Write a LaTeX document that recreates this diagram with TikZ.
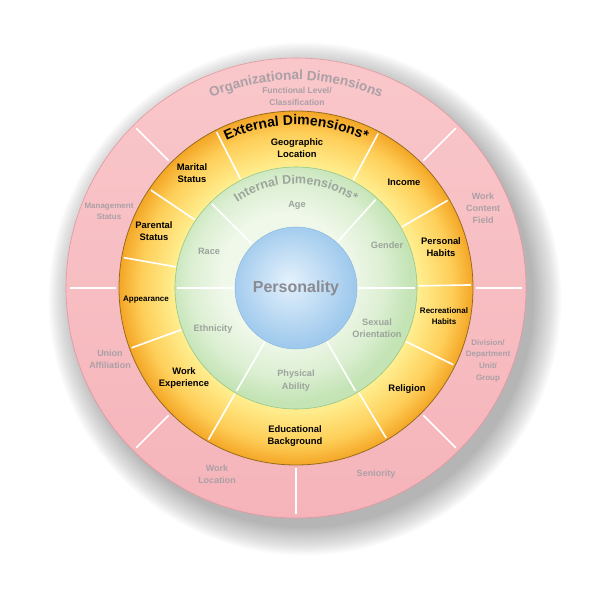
\documentclass[tikz,border=0pt]{standalone}
\usepackage{fontspec}
\setmainfont{Liberation Sans}
\usepackage{xcolor}
\definecolor{orgpink}{RGB}{249,199,202}
\definecolor{orgpinkdark}{RGB}{245,180,186}
\definecolor{orgedge}{RGB}{228,150,158}
\definecolor{orggray}{RGB}{170,160,166}
\definecolor{extlight}{RGB}{255,236,140}
\definecolor{extmid}{RGB}{254,206,88}
\definecolor{extdark}{RGB}{244,166,38}
\definecolor{extedge}{RGB}{150,108,30}
\definecolor{intlight}{RGB}{240,248,234}
\definecolor{intdark}{RGB}{196,228,182}
\definecolor{intedge}{RGB}{150,200,138}
\definecolor{intgray}{RGB}{156,164,156}
\definecolor{perlight}{RGB}{228,241,252}
\definecolor{perdark}{RGB}{160,202,237}
\definecolor{peredge}{RGB}{140,184,224}
\definecolor{pergray}{RGB}{138,138,146}
\usepackage{tikz}
\usetikzlibrary{decorations.text,calc}

\pgfdeclareradialshading{extshade}{\pgfpoint{0bp}{0bp}}{color(0bp)=(extlight); color(17.5bp)=(extlight); color(22bp)=(extmid); color(25bp)=(extdark); color(50bp)=(extdark)}
\pgfdeclareradialshading{intshade}{\pgfpoint{-3bp}{3bp}}{color(0bp)=(intlight); color(13bp)=(intlight); color(20bp)=(intlight!55!intdark); color(25bp)=(intdark); color(50bp)=(intdark)}
\pgfdeclareradialshading{pershade}{\pgfpoint{-3bp}{3bp}}{color(0bp)=(perlight); color(25bp)=(perdark); color(50bp)=(perdark)}

\begin{document}
\begin{tikzpicture}[
  x=1pt,y=1pt,
  ring/.style={circle,inner sep=0pt,outer sep=0pt},
  divider/.style={white,line width=1.6pt},
  orglabel/.style={font=\fontsize{9}{12}\selectfont\bfseries,text=orggray,align=center},
  extlabel/.style={font=\fontsize{9.4}{12}\selectfont\bfseries,text=black,align=center},
  intlabel/.style={font=\fontsize{9.2}{12.5}\selectfont\bfseries,text=intgray,align=center},
]
  \useasboundingbox (-296,-303) rectangle (295,288);

  % Shadow
  \foreach \k in {0,...,16}
    \fill[black,opacity=0.018] (9,-11) circle ({229+1.7*\k});

  % Organizational ring
  \node[ring,minimum size=460pt,top color=orgpink,bottom color=orgpinkdark,
        draw=orgedge,line width=0.6pt] (org) at (0,0) {};
  \foreach \a in {180,135,45,0,-45,-90,-135}
    \draw[divider] (\a:180) -- (\a:226);

  % External ring
  \node[ring,minimum size=354pt,shading=extshade,draw=extedge,line width=0.8pt]
    (ext) at (0,0) {};
  \foreach \a in {117,62,30,1,-26,-59,-120,200,170,146}
    \draw[divider] (\a:122) -- (\a:175);

  % Internal ring
  \node[ring,minimum size=242pt,shading=intshade,draw=intedge,line width=0.6pt]
    (int) at (0,0) {};
  \foreach \a in {135,48,0,180,-60,-120}
    \draw[divider] (\a:62) -- (\a:119);

  % Core
  \node[ring,minimum size=122pt,shading=pershade,draw=peredge,line width=0.5pt,
        font=\fontsize{16}{16}\selectfont\bfseries,text=pergray]
    (per) at (0,0) {Personality};

  % Ring titles
  \path[decorate,decoration={text along path,text align=center,
        text={|\fontsize{13.5}{14}\selectfont\bfseries\color{orggray}|Organizational Dimensions}}]
    (150:208) arc[start angle=150,end angle=30,radius=208];
  \path[decorate,decoration={text along path,text align=center,
        text={|\fontsize{14}{14}\selectfont\bfseries\color{black}|External Dimensions*}}]
    (150:163) arc[start angle=150,end angle=30,radius=163];
  \path[decorate,decoration={text along path,text align=center,
        text={|\fontsize{12.5}{13}\selectfont\bfseries\color{intgray}|Internal Dimensions*}}]
    (160:104) arc[start angle=160,end angle=20,radius=104];

  % Organizational dimensions
  \node[orglabel,font=\fontsize{8.5}{12}\selectfont\bfseries] (funclevel) at (1,192) {Functional Level/\\Classification};
  \node[orglabel,font=\fontsize{8}{11}\selectfont\bfseries] (mgmt) at (-187,76.5) {Management\\Status};
  \node[orglabel] (workcontent) at (187,79.5) {Work\\Content\\Field};
  \node[orglabel] (union) at (-186,-71.5) {Union\\Affiliation};
  \node[orglabel,font=\fontsize{8}{11.7}\selectfont\bfseries] (division) at (192,-72.5) {Division/\\Department\\Unit/\\Group};
  \node[orglabel] (workloc) at (-79,-186.5) {Work\\Location};
  \node[orglabel] (seniority) at (80,-186) {Seniority};

  % External dimensions
  \node[extlabel] (geo) at (1,140) {Geographic\\Location};
  \node[extlabel] (marital) at (-104,114.5) {Marital\\Status};
  \node[extlabel] (income) at (108,106) {Income};
  \node[extlabel] (parental) at (-142,56.5) {Parental\\Status};
  \node[extlabel] (personal) at (145,40.5) {Personal\\Habits};
  \node[extlabel,font=\fontsize{8}{11}\selectfont\bfseries] (appearance) at (-150,-12) {Appearance};
  \node[extlabel,font=\fontsize{8}{11}\selectfont\bfseries] (recreational) at (148,-28.5) {Recreational\\Habits};
  \node[extlabel] (workexp) at (-112,-90.5) {Work\\Experience};
  \node[extlabel] (religion) at (111,-101) {Religion};
  \node[extlabel] (education) at (-1,-148) {Educational\\Background};

  % Internal dimensions
  \node[intlabel] (age) at (1,83) {Age};
  \node[intlabel] (race) at (-87,37) {Race};
  \node[intlabel] (gender) at (91,43) {Gender};
  \node[intlabel] (ethnicity) at (-83,-41) {Ethnicity};
  \node[intlabel] (orientation) at (81,-40) {Sexual\\Orientation};
  \node[intlabel] (ability) at (0,-92.5) {Physical\\Ability};
\end{tikzpicture}
\end{document}
